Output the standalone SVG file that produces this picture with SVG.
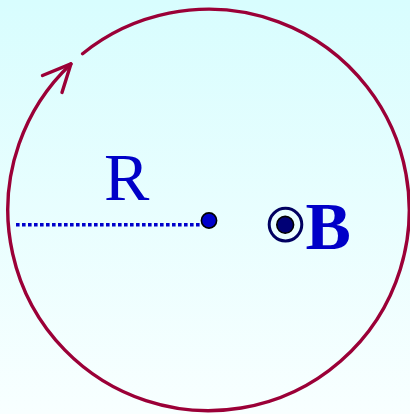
<svg xmlns="http://www.w3.org/2000/svg" width="410" height="414" viewBox="0 0 410 414">
<defs>
<linearGradient id="bg" x1="0" y1="0" x2="0" y2="1">
<stop offset="0" stop-color="#d8fdfe"/>
<stop offset="1" stop-color="#f8ffff"/>
</linearGradient>
<style>
.loop{fill:none;stroke:#9b0037;stroke-width:3.4;stroke-linecap:round;stroke-linejoin:round}
.lbl{font-family:"Liberation Serif","Times New Roman",serif;font-size:68px;fill:#0000c8}
</style>
</defs>
<rect width="410" height="414" fill="url(#bg)"/>
<g id="connectors">
<path class="loop" d="M 82.6 53.7 A 200.7 200.7 0 1 1 70.9 63.9"/>
<polyline class="loop" points="42.5,75.5 70.9,63.9 62,92.5"/>
<line x1="16" y1="224.7" x2="202" y2="224.7" stroke="#0000cc" stroke-width="3.6" stroke-dasharray="3.6 2.4"/>
</g>
<g id="center">
<circle cx="209" cy="220.5" r="7.6" fill="#0000cc" stroke="#000" stroke-width="1.6"/>
</g>
<g id="label-R">
<text class="lbl" x="104" y="200">R</text>
</g>
<g id="field-B">
<circle cx="285.5" cy="224.6" r="16.3" fill="none" stroke="#000060" stroke-width="3"/>
<circle cx="285.2" cy="224.8" r="8.4" fill="#000075" stroke="#000" stroke-width="1.6"/>
<text class="lbl" x="305.5" y="249" font-weight="bold">B</text>
</g>
</svg>
